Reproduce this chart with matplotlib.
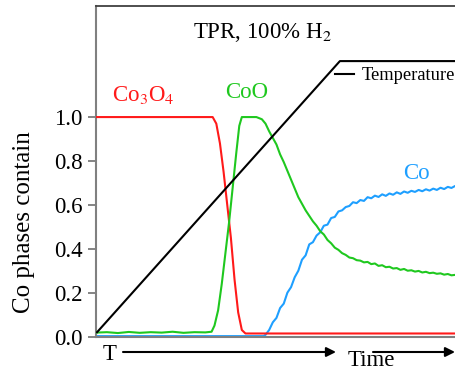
import matplotlib
matplotlib.use("Agg")
import matplotlib.pyplot as plt

plt.rcParams['font.family'] = ['Liberation Serif', 'DejaVu Serif']
plt.rcParams['mathtext.fontset'] = 'stix'

# time axis in arbitrary units (0 = start of the TPR run)
temp_t = [0.3, 66.9, 100]
temp_y = [0.02, 1.255, 1.255]

co3o4_t = [0, 10, 20, 32, 33, 34, 35, 36, 37, 38, 39, 40, 41, 60, 80, 100]
co3o4_y = [1.0, 1.0, 1.0, 1.0, 0.97, 0.88, 0.75, 0.6, 0.45, 0.26, 0.11, 0.03, 0.014, 0.014, 0.014, 0.014]

coo_t = [0, 3, 6, 9, 12, 15, 18, 21, 24, 27, 30, 31.7, 32.5, 33.5, 34.5, 35.5, 36.5, 37.5, 38.5, 39.3,
         40, 42, 44, 45.5, 46.5, 47.5, 48.5, 49.5, 50.5, 51.5, 52.5, 53.5, 54.5, 55.5, 56.5, 57.5,
         58.5, 59.5, 60.5, 61.5, 62.5, 63.5, 64.5, 65.5, 66.5, 67.5, 68.5, 69.5, 70.5, 71.5, 72.5,
         73.5, 74.5, 75.5, 76.5, 77.5, 78.5, 79.5, 80.5, 81.5, 82.5, 83.5, 84.5, 85.5, 86.5, 87.5,
         88.5, 89.5, 90.5, 91.5, 92.5, 93.5, 94.5, 95.5, 96.5, 97.5, 98.5, 99.5]
coo_y = [0.018, 0.02, 0.016, 0.021, 0.017, 0.02, 0.018, 0.022, 0.017, 0.02, 0.019, 0.022, 0.05, 0.12, 0.24, 0.38,
         0.52, 0.68, 0.84, 0.96,
         1.0, 1.0, 1.0, 0.99, 0.97, 0.935, 0.905, 0.875, 0.83, 0.795, 0.755, 0.715, 0.675, 0.635, 0.605, 0.575,
         0.55, 0.525, 0.505, 0.48, 0.465, 0.44, 0.425, 0.405, 0.395, 0.38, 0.372, 0.36, 0.357, 0.348, 0.346,
         0.338, 0.34, 0.33, 0.333, 0.322, 0.325, 0.316, 0.318, 0.31, 0.312, 0.304, 0.308, 0.3, 0.302, 0.296,
         0.299, 0.292, 0.295, 0.289, 0.291, 0.286, 0.288, 0.282, 0.285, 0.279, 0.281, 0.277]

co_t = [0, 20, 46, 46.5, 47.5, 48.5, 49.5, 50.5, 51.5, 52.5, 53.5, 54.5, 55.5, 56.5, 57.5, 58.5, 59.5,
        60.5, 61.5, 62.5, 63.5, 64.5, 65.5, 66.5, 67.5, 68.5, 69.5, 70.5, 71.5, 72.5, 73.5, 74.5, 75.5,
        76.5, 77.5, 78.5, 79.5, 80.5, 81.5, 82.5, 83.5, 84.5, 85.5, 86.5, 87.5, 88.5, 89.5, 90.5, 91.5,
        92.5, 93.5, 94.5, 95.5, 96.5, 97.5, 98.5, 99.5]
co_y = [0.002, 0.002, 0.002, 0.008, 0.03, 0.065, 0.085, 0.13, 0.15, 0.2, 0.225, 0.27, 0.3, 0.35, 0.37, 0.42, 0.43,
        0.46, 0.475, 0.505, 0.51, 0.54, 0.545, 0.57, 0.575, 0.59, 0.595, 0.612, 0.608, 0.622, 0.618, 0.635, 0.63,
        0.642, 0.636, 0.648, 0.641, 0.652, 0.646, 0.657, 0.65, 0.661, 0.655, 0.664, 0.659, 0.668, 0.662, 0.671, 0.665,
        0.674, 0.668, 0.678, 0.672, 0.682, 0.677, 0.686, 0.683]

fig = plt.figure(figsize=(4.56, 3.71), dpi=100)
W, H = 456, 371
ax = fig.add_axes([96 / W, (H - 337) / H, (W - 96) / W + 0.01, (337 - 6) / H])

ax.plot(co_t, co_y, color='#1e9fff', lw=1.5, zorder=2)
ax.plot(co3o4_t, co3o4_y, color='#ff1a1a', lw=1.5, zorder=3)
ax.plot(coo_t, coo_y, color='#1fc81f', lw=1.5, zorder=3)
ax.plot(temp_t, temp_y, color='black', lw=1.5, zorder=4, label='Temperature')

ax.set_xlim(0, 100)
ax.set_ylim(-0.002, 1.506)
ax.set_yticks([0.0, 0.2, 0.4, 0.6, 0.8, 1.0])
ax.set_yticklabels(['0.0', '0.2', '0.4', '0.6', '0.8', '1.0'])
ax.set_xticks([])
ax.tick_params(axis='y', direction='out', length=6, width=1.2, color='#707070', pad=3.5, labelsize=16.5)
for s in ['left', 'bottom']:
    ax.spines[s].set_color('#808080')
    ax.spines[s].set_linewidth(1.5)
ax.spines['top'].set_color('#404040')
ax.spines['top'].set_linewidth(1.3)
ax.spines['right'].set_visible(False)

ax.legend(loc='center left', bbox_to_anchor=(335 / W, (H - 76) / H), bbox_transform=fig.transFigure,
          frameon=False, fontsize=13.3, handlelength=1.05, handletextpad=0.4, borderpad=0, borderaxespad=0)

fig.text(262 / W, (H - 32) / H, r'TPR, 100% H$_2$', ha='center', va='center', fontsize=16.5)
ax.text(13, 1.1, r'Co$_3$O$_4$', color='#ff1a1a', fontsize=16.5, ha='center', va='center')
ax.text(41.3, 1.11, 'CoO', color='#1fc81f', fontsize=16.5, ha='center', va='center')
ax.text(87.8, 0.745, 'Co', color='#1e9fff', fontsize=16.5, ha='center', va='center')

fig.text(24 / W, (H - 222) / H, 'Co phases contain', rotation=90, ha='center', va='center', fontsize=18)

# time direction arrows below the axis
fig.text(110 / W, (H - 355) / H, 'T', ha='center', va='center', fontsize=16.5)
fig.text(371 / W, (H - 360) / H, 'Time', ha='center', va='center', fontsize=16.5)
arrow = dict(arrowstyle='-|>', color='black', lw=1.5, mutation_scale=14, shrinkA=0, shrinkB=0)
ax.annotate('', xy=(336, H - 352), xytext=(123, H - 352), xycoords='figure pixels',
            textcoords='figure pixels', arrowprops=arrow)
ax.annotate('', xy=(455, H - 352), xytext=(373, H - 352), xycoords='figure pixels',
            textcoords='figure pixels', arrowprops=arrow)

fig.savefig('out.png', dpi=100)
